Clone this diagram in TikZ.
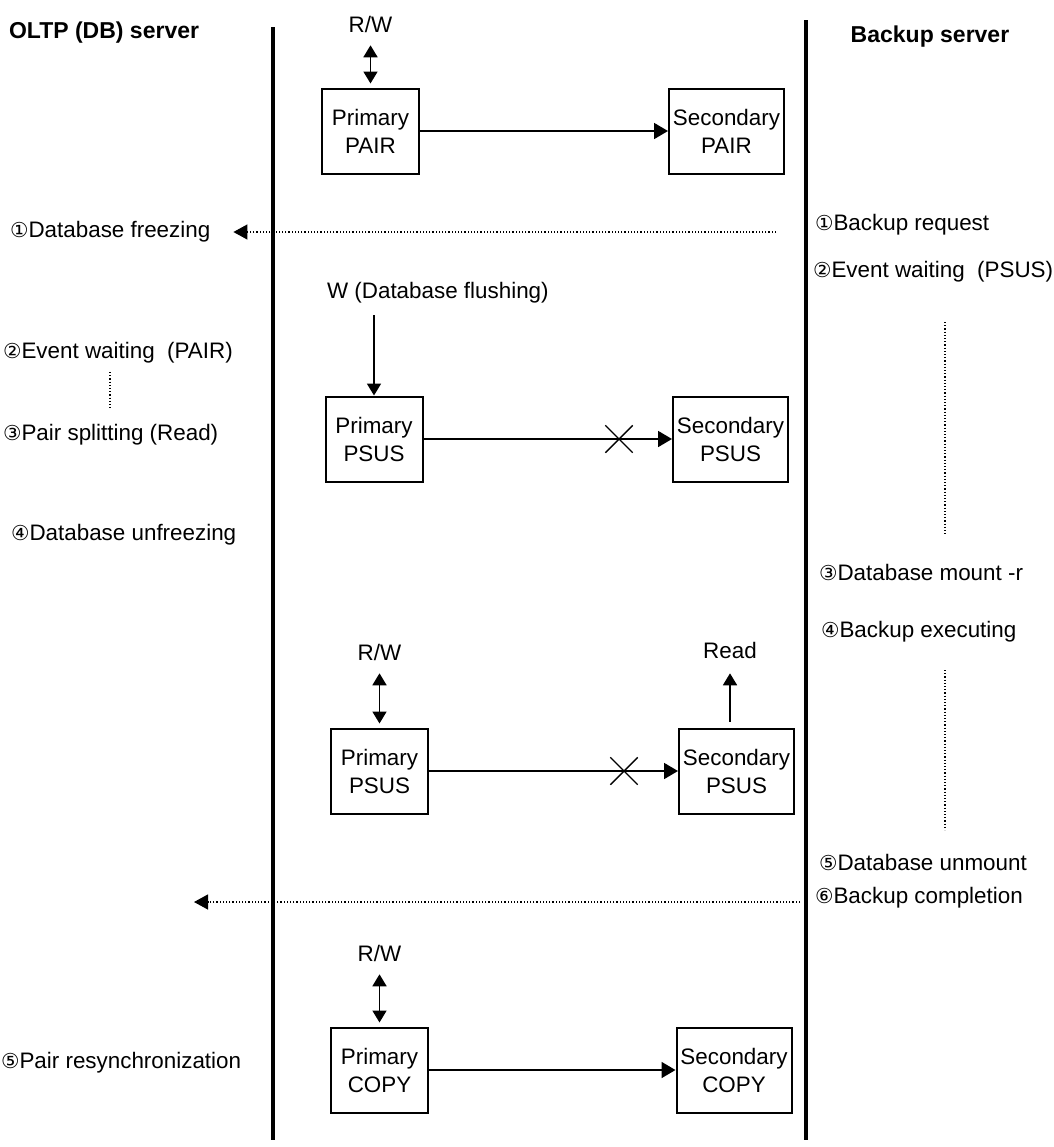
\documentclass[tikz,border=0pt]{standalone}
\usepackage{fontspec}
\setmainfont{Liberation Sans}
\newfontfamily\circfont{DejaVu Sans}
\usepackage{tikz}
\usetikzlibrary{positioning}
\usetikzlibrary{arrows.meta,shapes.misc}
\tikzstyle{primbox}=[draw,line width=1pt,minimum width=48.5pt,minimum height=42.5pt,inner sep=0pt,align=center]
\tikzstyle{secbox}=[primbox,minimum width=57.5pt]
\tikzstyle{edge} = [draw,line width=0.9pt,-{Triangle[length=7pt,width=8pt]}]
\tikzstyle{smalledge} = [draw,line width=0.9pt,-{Triangle[length=6pt,width=7pt]}]
\tikzstyle{rwedge} = [draw,line width=0.9pt,{Triangle[length=6pt,width=7pt]}-{Triangle[length=6pt,width=7pt]}]
\tikzstyle{msgedge} = [draw,line width=0.6pt,densely dotted,-{Triangle[length=7pt,width=7.5pt]}]
\tikzstyle{waitline} = [draw,line width=0.6pt,densely dotted]
\tikzstyle{lane} = [draw,line width=1.6pt]
\tikzstyle{cut} = [draw,cross out,line width=0.7pt,minimum size=13pt,inner sep=0pt]
\tikzstyle{stage} = [anchor=west]
\tikzstyle{server} = [font=\fontsize{11.5pt}{14pt}\selectfont\bfseries]
\newcommand{\cnum}[1]{{\circfont\fontsize{10.3pt}{12pt}\selectfont #1}}

\begin{document}
\begin{tikzpicture}[x=0.5pt,y=-0.5pt,font=\fontsize{11.2pt}{14pt}\selectfont]
    \useasboundingbox (0,0) rectangle (1054,1147);
    % Servers and their lanes
    \node[server,anchor=west] (oltp) at (2,33) {OLTP (DB) server};
    \node[server] (bkp) at (930,37) {Backup server};
    \coordinate (ltop) at (273,27);
    \coordinate (lbot) at (273,1140);
    \coordinate (rtop) at (806,20);
    \coordinate (rbot) at (806,1140);
    \path[lane] (ltop) -- (lbot);
    \path[lane] (rtop) -- (rbot);

    % First we draw the volumes
    \foreach \pos/\name/\label in {{(370.5,131)/pPAIR/Primary\\PAIR},
    {(374,439)/pPSUSa/Primary\\PSUS}, {(379.5,771)/pPSUSb/Primary\\PSUS},
    {(379.5,1070)/pCOPY/Primary\\COPY}}
        \node[primbox] (\name) at \pos {\label};
    \foreach \pos/\name/\label in {{(726.5,131)/sPAIR/Secondary\\PAIR},
    {(730.5,439)/sPSUSa/Secondary\\PSUS}, {(736.5,771)/sPSUSb/Secondary\\PSUS},
    {(734,1070)/sCOPY/Secondary\\COPY}}
        \node[secbox] (\name) at \pos {\label};

    % Copy paths between the pairs
    \foreach \source/\dest in {pPAIR/sPAIR, pPSUSa/sPSUSa, pPSUSb/sPSUSb, pCOPY/sCOPY}
        \path[edge] (\source) -- (\dest);
    \node[cut] (xa) at (619,439) {};
    \node[cut] (xb) at (624,771) {};

    % Host access
    \node (rwa) at (370.5,24) {R/W};
    \node (rwb) at (379.5,652) {R/W};
    \node (rwc) at (379.5,953) {R/W};
    \foreach \source/\dest in {rwa/pPAIR, rwb/pPSUSb, rwc/pCOPY}
        \path[rwedge,shorten <=3pt,shorten >=2pt] (\source) -- (\dest);
    \node[anchor=west] (wflush) at (320,293) {W (Database flushing)};
    \coordinate (wstart) at (374,315);
    \path[smalledge] (wstart) -- (pPSUSa);
    \node (read) at (730,650) {Read};
    \path[smalledge,shorten <=3pt,shorten >=4pt] (read |- sPSUSb.north) -- (read);

    % OLTP side steps
    \node[stage] (frz) at (3,232) {\cnum{①}Database freezing};
    \node[stage] (evpair) at (-4,353) {\cnum{②}Event waiting~ (PAIR)};
    \node[stage] (split) at (-4,435) {\cnum{③}Pair splitting (Read)};
    \node[stage] (unfrz) at (4,535) {\cnum{④}Database unfreezing};
    \node[stage] (resync) at (-6,1063) {\cnum{⑤}Pair resynchronization};
    \coordinate (wpa) at (110,372);
    \coordinate (wpb) at (110,410);
    \path[waitline] (wpa) -- (wpb);

    % Backup side steps
    \node[stage] (req) at (808,225) {\cnum{①}Backup request};
    \node[stage] (evpsus) at (806,272) {\cnum{②}Event waiting~ (PSUS)};
    \node[stage] (mount) at (812,572) {\cnum{③}Database mount -r};
    \node[stage] (exec) at (814,632) {\cnum{④}Backup executing};
    \node[stage] (umount) at (812,862) {\cnum{⑤}Database unmount};
    \node[stage] (cmpl) at (808,898) {\cnum{⑥}Backup completion};
    \coordinate (wsa) at (945,322);
    \coordinate (wsb) at (945,535);
    \coordinate (wsc) at (945,670);
    \coordinate (wsd) at (945,830);
    \path[waitline] (wsa) -- (wsb);
    \path[waitline] (wsc) -- (wsd);

    % Messages between the servers
    \coordinate (reqend) at (776,232);
    \path[msgedge,shorten >=8pt] (reqend) -- (frz);
    \coordinate (cmplend) at (800,902);
    \coordinate (cmpltip) at (194,902);
    \path[msgedge] (cmplend) -- (cmpltip);
\end{tikzpicture}
\end{document}
